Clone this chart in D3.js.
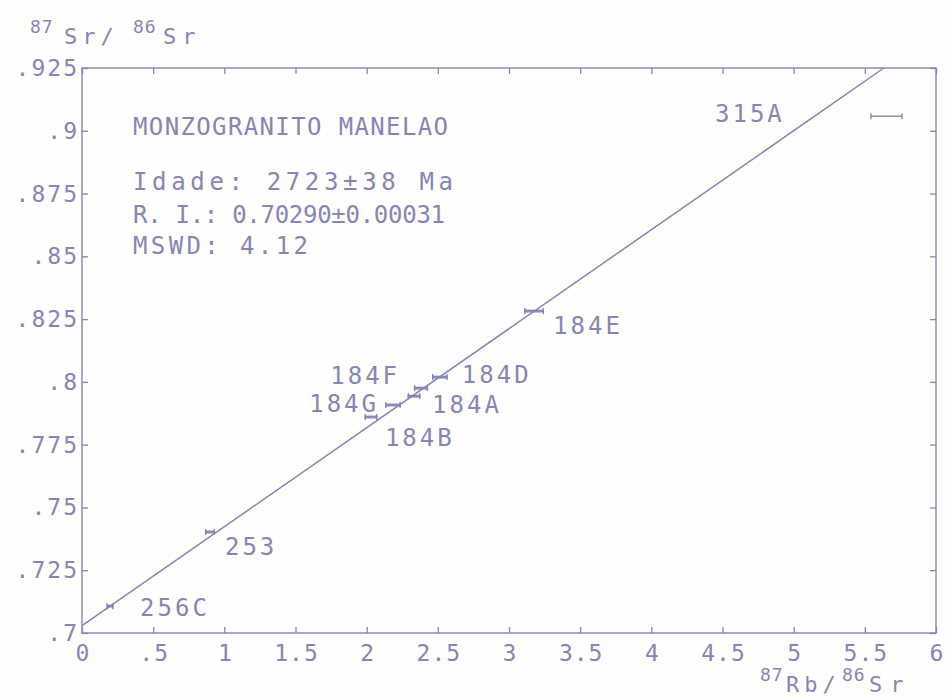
<!DOCTYPE html>
<html>
<head>
<meta charset="utf-8">
<script src="https://cdn.jsdelivr.net/npm/d3@7"></script>
<style>
  html, body { margin: 0; padding: 0; background: #fefefd; }
  svg { display: block; }
  text { font-family: "DejaVu Sans Mono", monospace; fill: #8685b6; }
</style>
</head>
<body>
<svg id="chart" width="945" height="697"></svg>
<script>
// Rb-Sr whole-rock isochron, Monzogranito Manelao
const samples = ["256C", "253", "184B", "184G", "184A", "184F", "184D", "184E"];
const rbSr    = [0.197, 0.899, 2.030, 2.185, 2.333, 2.382, 2.514, 3.176];   // 87Rb/86Sr
const srSr    = [0.7107, 0.7402, 0.7860, 0.7908, 0.7943, 0.7975, 0.8019, 0.8282]; // 87Sr/86Sr
const rbSrErr = [0.02, 0.03, 0.04, 0.05, 0.04, 0.045, 0.05, 0.065];
const srSrErr = [0.0006, 0.0006, 0.0006, 0.0006, 0.0006, 0.0006, 0.0006, 0.0006];

// error scale marker in the upper right corner
const scaleBarX = [5.652];
const scaleBarY = [0.9058];
const scaleBarErr = [0.109];

// isochron parameters
const ageMa = 2723;
const ageErr = 38;
const initialRatio = 0.70290;
const initialErr = 0.00031;
const mswd = 4.12;
const lambdaRb = 1.42e-11;

const xTicks = [0, 0.5, 1, 1.5, 2, 2.5, 3, 3.5, 4, 4.5, 5, 5.5, 6];
const xTickLabels = ["0", ".5", "1", "1.5", "2", "2.5", "3", "3.5", "4", "4.5", "5", "5.5", "6"];
const yTicks = [0.7, 0.725, 0.75, 0.775, 0.8, 0.825, 0.85, 0.875, 0.9, 0.925];
const yTickLabels = [".7", ".725", ".75", ".775", ".8", ".825", ".85", ".875", ".9", ".925"];

const titleLines = [
  "MONZOGRANITO MANELAO",
  "Idade: " + ageMa + "±" + ageErr + " Ma",
  "R. I.: " + initialRatio.toFixed(5) + "±" + initialErr.toFixed(5),
  "MSWD: " + mswd.toFixed(2)
];

const ink = "#8584b4";
const svg = d3.select("#chart");
const plotL = 82, plotR = 936, plotT = 68, plotB = 633;

const x = d3.scaleLinear().domain([0, 6]).range([plotL, plotR]);
const y = d3.scaleLinear().domain([0.7, 0.925]).range([plotB, plotT]);

// frame
svg.append("rect")
  .attr("x", plotL).attr("y", plotT)
  .attr("width", plotR - plotL).attr("height", plotB - plotT)
  .attr("fill", "none").attr("stroke", ink).attr("stroke-width", 1.4);

const tickLen = 6;
// inward ticks on all four sides, drawn through d3 axes
const axisStyle = g => {
  g.select(".domain").remove();
  g.selectAll(".tick line").attr("stroke", ink).attr("stroke-width", 1.3);
  g.selectAll(".tick text").remove();
};
svg.append("g").attr("transform", `translate(0,${plotB})`)
  .call(d3.axisTop(x).tickValues(xTicks).tickSize(tickLen)).call(axisStyle);
svg.append("g").attr("transform", `translate(0,${plotT})`)
  .call(d3.axisBottom(x).tickValues(xTicks).tickSize(tickLen)).call(axisStyle);
svg.append("g").attr("transform", `translate(${plotL},0)`)
  .call(d3.axisRight(y).tickValues(yTicks).tickSize(tickLen)).call(axisStyle);
svg.append("g").attr("transform", `translate(${plotR},0)`)
  .call(d3.axisLeft(y).tickValues(yTicks).tickSize(tickLen)).call(axisStyle);

// tick labels
svg.append("g").selectAll("text").data(xTicks).join("text")
  .attr("x", d => x(d) + 1).attr("y", plotB + 28)
  .attr("text-anchor", "middle")
  .attr("font-size", 23)
  .attr("letter-spacing", 1)
  .text((d, i) => xTickLabels[i]);
svg.append("g").selectAll("text").data(yTicks).join("text")
  .attr("x", plotL - 3).attr("y", d => y(d) + 8)
  .attr("text-anchor", "end")
  .attr("font-size", 23)
  .attr("letter-spacing", 2)
  .text((d, i) => yTickLabels[i]);

// axis titles with raised mass numbers
function ratioTitle(parts) {
  parts.forEach(([txt, px, py, size, ls]) => {
    svg.append("text").attr("x", px).attr("y", py)
      .attr("font-size", size).attr("letter-spacing", ls).text(txt);
  });
}
ratioTitle([["87", 30, 33, 18, 1], ["Sr/", 64, 44, 22, 5], ["86", 133, 33, 18, 1], ["Sr", 163, 44, 22, 6]]);
ratioTitle([["87", 760, 681, 18, 1], ["Rb/", 786, 692, 22, 5], ["86", 842, 681, 18, 1], ["Sr", 869, 692, 22, 8]]);

// isochron line, clipped to the frame
const slope = Math.exp(lambdaRb * ageMa * 1e6) - 1;
const xEnd = Math.min(6, (0.925 - initialRatio) / slope);
svg.append("line")
  .attr("x1", x(0)).attr("y1", y(initialRatio))
  .attr("x2", x(xEnd)).attr("y2", y(initialRatio + slope * xEnd))
  .attr("stroke", ink).attr("stroke-width", 1.5);

// data points as error boxes with end caps
const pts = samples.map((s, i) => ({ s, x: rbSr[i], y: srSr[i], xe: rbSrErr[i], ye: srSrErr[i] }));
const capH = 3;
const pg = svg.append("g").attr("stroke", ink).attr("stroke-width", 1.4).attr("fill", "none");
pts.forEach(p => {
  const x0 = x(p.x - p.xe), x1 = x(p.x + p.xe), yc = y(p.y);
  const h = Math.max(1.5, y(p.y - p.ye) - yc);
  pg.append("rect").attr("x", x0).attr("y", yc - h / 2).attr("width", x1 - x0).attr("height", h);
  pg.append("line").attr("x1", x0).attr("x2", x0).attr("y1", yc - capH).attr("y2", yc + capH);
  pg.append("line").attr("x1", x1).attr("x2", x1).attr("y1", yc - capH).attr("y2", yc + capH);
});

// error scale marker
scaleBarX.forEach((sx, i) => {
  const x0 = x(sx - scaleBarErr[i]), x1 = x(sx + scaleBarErr[i]), yc = y(scaleBarY[i]);
  pg.append("line").attr("x1", x0).attr("x2", x1).attr("y1", yc).attr("y2", yc);
  pg.append("line").attr("x1", x0).attr("x2", x0).attr("y1", yc - 3).attr("y2", yc + 3);
  pg.append("line").attr("x1", x1).attr("x2", x1).attr("y1", yc - 3).attr("y2", yc + 3);
});

// sample labels placed beside their points
const labelPlace = {
  "256C": [30, 10, "start"],
  "253":  [15, 23, "start"],
  "184B": [14, 29, "start"],
  "184G": [-14, 7, "end"],
  "184A": [18, 17, "start"],
  "184F": [-21, -4, "end"],
  "184D": [22, 6, "start"],
  "184E": [19, 23, "start"]
};
svg.append("g").selectAll("text").data(pts).join("text")
  .attr("x", d => x(d.x) + labelPlace[d.s][0])
  .attr("y", d => y(d.y) + labelPlace[d.s][1])
  .attr("text-anchor", d => labelPlace[d.s][2])
  .attr("font-size", 24)
  .attr("letter-spacing", 3)
  .text(d => d.s);

// off-scale sample label
svg.append("text").attr("x", 715).attr("y", 122)
  .attr("font-size", 24).attr("letter-spacing", 3).text("315A");

// isochron summary, each line spread to its printed width
const lineY = [135, 190, 223, 254];
const lineW = [315, 320, 312, 175];
svg.append("g").selectAll("text").data(titleLines).join("text")
  .attr("x", 133).attr("y", (d, i) => lineY[i])
  .attr("font-size", 24)
  .attr("textLength", (d, i) => lineW[i])
  .attr("lengthAdjust", "spacing")
  .text(d => d);
</script>
</body>
</html>
